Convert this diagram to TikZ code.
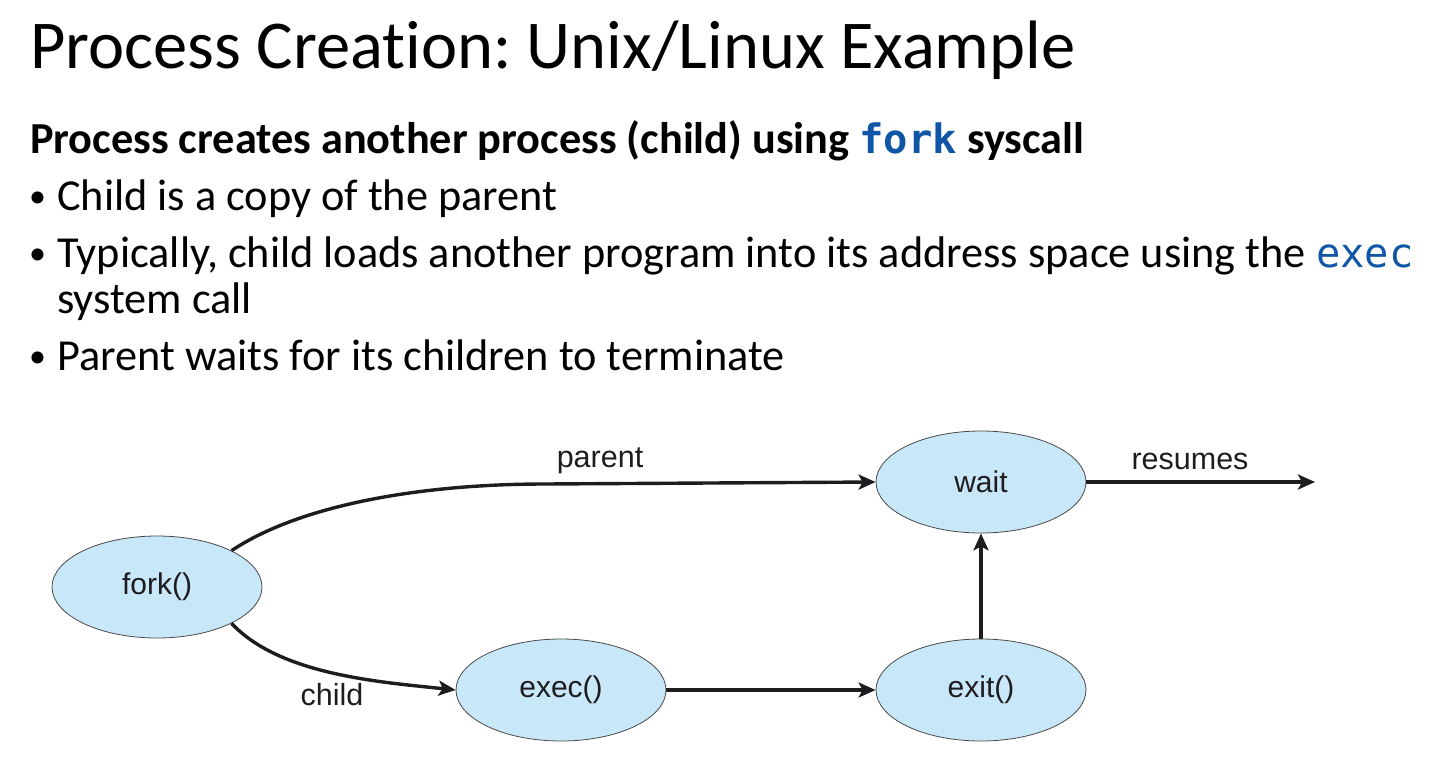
\documentclass[tikz,border=0pt]{standalone}
\usepackage{fontspec}
\setmainfont{Carlito}[Ligatures={NoCommon}]
\newfontfamily\diagfont{Liberation Sans}
\newfontfamily\codefont{DejaVu Sans Mono}
\usetikzlibrary{arrows.meta,shapes.geometric}
\definecolor{codeblue}{RGB}{16,86,166}
\definecolor{ellfill}{RGB}{200,231,248}
\definecolor{ink}{RGB}{30,28,30}
\frenchspacing
\begin{document}
\begin{tikzpicture}[x=1pt,y=-1pt,
  proc/.style={ellipse,draw=ink!80,line width=0.8pt,fill=ellfill,minimum width=210pt,minimum height=102pt,inner sep=0pt,font=\diagfont\fontsize{30}{34}\selectfont,text=ink},
  flow/.style={ink,line width=3.4pt,-{Stealth[length=17pt,width=15pt,inset=4pt]}},
  lbl/.style={font=\diagfont\fontsize{30.5}{34}\selectfont,text=ink,inner sep=0pt},
  txt/.style={anchor=base west,inner sep=0pt,font=\fontsize{44.3}{50}\selectfont},
  dot/.style={anchor=base west,inner sep=0pt,font=\fontsize{34}{40}\selectfont}]
\useasboundingbox (0,0) rectangle (1453,760);
\node[anchor=base west,inner sep=0pt,font=\fontsize{68.5}{80}\selectfont] (title) at (30,68) {Process Creation: Unix/Linux Example};
\node[txt,font=\fontsize{44.3}{50}\selectfont\bfseries] (head) at (30,153) {Process creates another process (child) using \textcolor{codeblue}{\codefont\fontsize{40.5}{46}\selectfont\bfseries fork} syscall};
\node[txt] (b1) at (57,210) {Child is a copy of the parent};
\node[txt] (b2) at (57,267) {Typically, child loads another program into its address space using the \textcolor{codeblue}{\codefont\fontsize{40.5}{46}\selectfont exec}};
\node[txt] (b2b) at (57,313) {system call};
\node[txt] (b3) at (57,370) {Parent waits for its children to terminate};
\node[dot] (d1) at (29,207) {•};
\node[dot] (d2) at (29,264) {•};
\node[dot] (d3) at (29,367) {•};

\node[proc] (fork) at (157,587) {fork()};
\node[proc] (exec) at (561,690) {exec()};
\node[proc] (exit) at (981,690) {exit()};
\node[proc] (wait) at (981,482) {wait};
\coordinate (res) at (1315,482);

\draw[flow] (fork.26) .. controls (300,505) and (420,484) .. (545,484) -- (wait.west);
\draw[flow] (fork.-26) .. controls (280,675) and (380,682) .. (exec.west);
\draw[flow] (exec) -- (exit);
\draw[flow] (exit) -- (wait);
\draw[flow] (wait) -- (res);

\node[lbl] (lp) at (600,461) {parent};
\node[lbl] (lc) at (332,695) {child};
\node[lbl] (lr) at (1190,461) {resumes};
\end{tikzpicture}
\end{document}
